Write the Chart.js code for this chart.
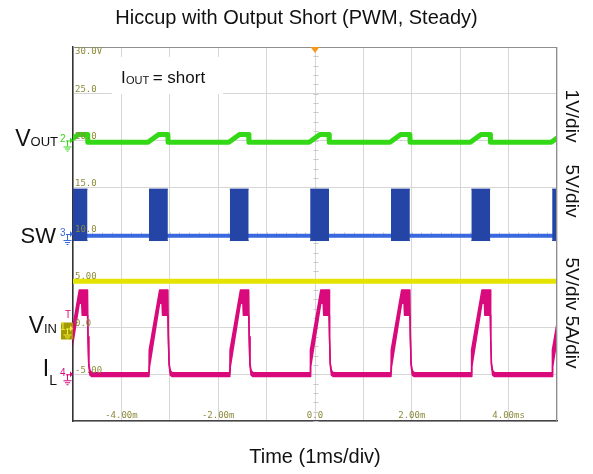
<!DOCTYPE html>
<html>
<head>
<meta charset="utf-8">
<script src="https://cdn.jsdelivr.net/npm/chart.js@4"></script>
<style>
  body { margin: 0; background: #fff; }
  canvas { display: block; }
</style>
</head>
<body>
<canvas id="scope" width="593" height="474"></canvas>
<script>
// time in ms (1ms/div), pulse start = rising edge of IL
const pulseStart = [-5.09, -3.43, -1.76, -0.10, 1.57, 3.23, 4.90];

// one hiccup pulse, offsets (ms) from pulse start
const ilTopT = [0, 0.005, 0.22, 0.39, 0.40, 0.415, 0.44, 0.48];
const ilTop  = [0.15, 2.6, 9.0, 9.0, 4.0, 1.2, 0.4, 0.15];     // A
const ilBotT = [0, 0.01, 0.22, 0.27, 0.28, 0.39, 0.40, 0.415, 0.44, 0.48];
const ilBot  = [-0.25, 0.8, 7.6, 7.6, 6.3, 6.3, 4.0, 1.0, -0.1, -0.25];
const ilBase = [0.15, -0.25];

const swTopT = [0, 0.39, 0.40];
const swTop  = [4.8, 4.8, null];   // V, switching burst envelope
const swBotT = [0, 0.39, 0.40];
const swBot  = [-0.7, -0.7, null];
const swLineT = [-5, 5];
const swLine  = [-0.2, -0.2];

const voutT = [-0.02, 0.20, 0.39, 0.395];
const vout  = [-0.04, 0.13, 0.13, -0.04];   // V
const voutBase = -0.04;

const vinT = [-5, 5];
const vin  = [4.95, 4.95];   // V

// grid labels (screen scale is 5 units/div)
const yTickVals = [30, 25, 20, 15, 10, 5, 0, -5];
const yTickText = ['30.0V', '25.0', '20.0', '15.0', '10.0', '5.00', '0.0', '-5.00'];
const xTickVals = [-4, -2, 0, 2, 4];
const xTickText = ['-4.00m', '-2.00m', '0.0', '2.00m', '4.00ms'];

// channel ground position on the grid and scale per div
const channels = {
    vin:  {ground: 0,  perDiv: 5, color: '#e4e400', num: '1'},
    vout: {ground: 20, perDiv: 1, color: '#33d916', num: '2'},
    sw:   {ground: 10, perDiv: 5, color: '#3a68df', num: '3'},
    il:   {ground: -5, perDiv: 5, color: '#d90a7c', num: '4'}
};

const FONT = '"Liberation Sans", Arial, sans-serif';
const MONO = '"DejaVu Sans Mono", monospace';
const OLIVE = '#8c8a3a';

function pulses(shapeT, shapeV, base) {
    const pts = [{x: -6, y: base}];
    pulseStart.forEach(t0 => {
        shapeT.forEach((dt, i) => pts.push({x: t0 + dt, y: shapeV[i]}));
    });
    pts.push({x: 6, y: base});
    return pts;
}

function plain(ts, vs) {
    return ts.map((t, i) => ({x: t, y: vs[i]}));
}

function toGrid(pts, ch) {
    return pts.map(p => ({x: p.x, y: p.y === null ? null : ch.ground + p.y * 5 / ch.perDiv}));
}

function line(data, color, width, extra) {
    return Object.assign({
        data, borderColor: color, borderWidth: width, pointRadius: 0,
        tension: 0, fill: false, spanGaps: false, borderJoinStyle: 'round'
    }, extra || {});
}

function drawSub(ctx, main, sub, xRight, y, subDy, mainSize, subSize) {
    ctx.font = mainSize + 'px ' + FONT;
    const wm = ctx.measureText(main).width;
    ctx.font = subSize + 'px ' + FONT;
    const ws = ctx.measureText(sub).width;
    const x0 = xRight - wm - ws;
    ctx.textAlign = 'left';
    ctx.textBaseline = 'alphabetic';
    ctx.font = mainSize + 'px ' + FONT;
    ctx.fillText(main, x0, y);
    ctx.font = subSize + 'px ' + FONT;
    ctx.fillText(sub, x0 + wm, y + subDy);
}

function groundMark(ctx, y, color, num) {
    ctx.save();
    ctx.fillStyle = color;
    ctx.strokeStyle = color;
    ctx.lineWidth = 1;
    ctx.font = '10px ' + FONT;
    ctx.textAlign = 'left';
    ctx.textBaseline = 'middle';
    ctx.fillText(num, 60, y - 1);
    ctx.beginPath();
    ctx.moveTo(66, y + 0.5); ctx.lineTo(70, y + 0.5);
    ctx.moveTo(67.5, y); ctx.lineTo(67.5, y + 6);
    ctx.moveTo(63.5, y + 6.5); ctx.lineTo(71.5, y + 6.5);
    ctx.moveTo(65, y + 8.5); ctx.lineTo(70, y + 8.5);
    ctx.moveTo(66.5, y + 10.5); ctx.lineTo(68.5, y + 10.5);
    ctx.stroke();
    ctx.beginPath();
    ctx.moveTo(70, y - 3); ctx.lineTo(73, y); ctx.lineTo(70, y + 3);
    ctx.closePath();
    ctx.fill();
    ctx.restore();
}

const scopeDecor = {
    id: 'scopeDecor',
    beforeDatasetsDraw(chart) {
        const {ctx, chartArea: a, scales: {x, y}} = chart;
        const cx = Math.round(x.getPixelForValue(0)) + 0.5;
        const cy = Math.round(y.getPixelForValue(10)) + 0.5;
        ctx.save();
        ctx.strokeStyle = '#c8c8c8';
        ctx.lineWidth = 1;
        ctx.beginPath();
        for (let v = -10; v <= 30; v += 1) {
            const py = Math.round(y.getPixelForValue(v)) + 0.5;
            ctx.moveTo(cx - 2, py); ctx.lineTo(cx + 3, py);
        }
        for (let t = -5; t <= 5; t += 0.2) {
            const px = Math.round(x.getPixelForValue(t)) + 0.5;
            ctx.moveTo(px, cy - 2); ctx.lineTo(px, cy + 3);
        }
        ctx.stroke();
        ctx.restore();
    },
    afterDraw(chart) {
        const {ctx, chartArea: a, scales: {x, y}} = chart;
        ctx.save();
        // frame top / right
        ctx.strokeStyle = '#8f8f8f';
        ctx.lineWidth = 1;
        ctx.beginPath();
        ctx.moveTo(a.left, a.top + 0.5); ctx.lineTo(a.right, a.top + 0.5);
        ctx.moveTo(a.right - 0.5, a.top); ctx.lineTo(a.right - 0.5, a.bottom);
        ctx.stroke();

        // top grid label sits below the frame line
        ctx.fillStyle = OLIVE;
        ctx.font = '9px ' + MONO;
        ctx.textAlign = 'left';
        ctx.textBaseline = 'middle';
        ctx.fillText(yTickText[0], a.left + 2, y.getPixelForValue(yTickVals[0]) + 5);

        // trigger position marker
        const tx = x.getPixelForValue(0);
        ctx.fillStyle = '#f39a1e';
        ctx.beginPath();
        ctx.moveTo(tx - 4.5, a.top); ctx.lineTo(tx + 4.5, a.top); ctx.lineTo(tx, a.top + 6);
        ctx.closePath();
        ctx.fill();

        // IOUT annotation box
        ctx.fillStyle = '#fff';
        ctx.fillRect(112, 57, 111, 37);
        ctx.fillStyle = '#111';
        ctx.font = '17px ' + FONT;
        ctx.textBaseline = 'alphabetic';
        ctx.fillText('I', 121, 83);
        ctx.font = '11px ' + FONT;
        ctx.fillText('OUT', 126, 84);
        ctx.font = '17px ' + FONT;
        ctx.fillText(' = short', 148, 83);

        // channel ground markers
        groundMark(ctx, y.getPixelForValue(channels.vout.ground), channels.vout.color, channels.vout.num);
        groundMark(ctx, y.getPixelForValue(channels.sw.ground), channels.sw.color, channels.sw.num);
        groundMark(ctx, y.getPixelForValue(channels.il.ground), channels.il.color, channels.il.num);
        const g1 = y.getPixelForValue(channels.vin.ground);
        ctx.fillStyle = '#a39a00';
        ctx.fillRect(61, g1 - 5, 12, 17);
        groundMark(ctx, g1 + 1, '#f2ef3c', channels.vin.num);
        ctx.fillStyle = channels.il.color;
        ctx.font = '10px ' + FONT;
        ctx.textAlign = 'left';
        ctx.textBaseline = 'middle';
        ctx.fillText('T', 65, g1 - 12);

        // signal names
        ctx.fillStyle = '#111';
        drawSub(ctx, 'V', 'OUT', 58, 146, 0, 23, 13);
        drawSub(ctx, 'SW', '', 56, 243, 0, 22, 13);
        drawSub(ctx, 'V', 'IN', 57, 333, 0, 23, 13);
        drawSub(ctx, 'I', 'L', 57, 376, 9, 23, 14);

        // vertical scales on the right
        ctx.font = '19px ' + FONT;
        ctx.textAlign = 'center';
        ctx.textBaseline = 'middle';
        [['1V/div', 116], ['5V/div', 191], ['5V/div 5A/div', 313]].forEach(([s, cy]) => {
            ctx.save();
            ctx.translate(571, cy);
            ctx.rotate(Math.PI / 2);
            ctx.fillText(s, 0, 0);
            ctx.restore();
        });
        ctx.restore();
    }
};

const datasets = [
    line(toGrid(plain(vinT, vin), channels.vin), channels.vin.color, 5),
    line(toGrid(pulses(voutT, vout, voutBase), channels.vout), channels.vout.color, 5),
    line(toGrid(pulses(swBotT, swBot, null), channels.sw), '#2444a6', 1),
    line(toGrid(pulses(swTopT, swTop, null), channels.sw), '#2444a6', 1,
         {fill: '-1', backgroundColor: '#2444a6'}),
    line(toGrid(plain(swLineT, swLine), channels.sw), channels.sw.color, 4),
    line(toGrid(pulses(ilBotT, ilBot, ilBase[1]), channels.il), channels.il.color, 1.5),
    line(toGrid(pulses(ilTopT, ilTop, ilBase[0]), channels.il), channels.il.color, 1.5,
         {fill: '-1', backgroundColor: channels.il.color})
];

new Chart(document.getElementById('scope'), {
    type: 'line',
    data: {datasets},
    options: {
        responsive: false,
        animation: false,
        events: [],
        layout: {padding: 0},
        plugins: {
            legend: {display: false},
            tooltip: {enabled: false},
            title: {
                display: true,
                text: 'Hiccup with Output Short (PWM, Steady)',
                color: '#111',
                font: {family: FONT, size: 20, weight: 'normal'},
                padding: {top: 6, bottom: 17}
            }
        },
        scales: {
            x: {
                type: 'linear', min: -5, max: 5,
                grid: {color: '#d6d6d6', drawTicks: false},
                border: {display: true, color: '#444', width: 1.5},
                ticks: {
                    stepSize: 1, autoSkip: false, maxRotation: 0, mirror: true, padding: 0,
                    color: OLIVE, font: {family: MONO, size: 9},
                    callback: v => { const i = xTickVals.indexOf(v); return i < 0 ? '' : xTickText[i]; }
                },
                title: {
                    display: true, text: 'Time (1ms/div)', color: '#111',
                    font: {family: FONT, size: 20}, padding: {top: 24, bottom: 5}
                }
            },
            y: {
                type: 'linear', min: -10, max: 30,
                afterFit: s => { s.width = 73; },
                grid: {color: '#d6d6d6', drawTicks: false},
                border: {display: true, color: '#333', width: 1.5},
                ticks: {
                    stepSize: 5, mirror: true, padding: 2, labelOffset: -4, z: 1,
                    color: OLIVE, font: {family: MONO, size: 9},
                    callback: v => { const i = yTickVals.indexOf(v); return i <= 0 ? '' : yTickText[i]; }
                }
            },
            y2: {
                type: 'linear', position: 'right',
                afterFit: s => { s.width = 36; },
                grid: {display: false},
                border: {display: false},
                ticks: {display: false}
            }
        }
    },
    plugins: [scopeDecor]
});
</script>
</body>
</html>
